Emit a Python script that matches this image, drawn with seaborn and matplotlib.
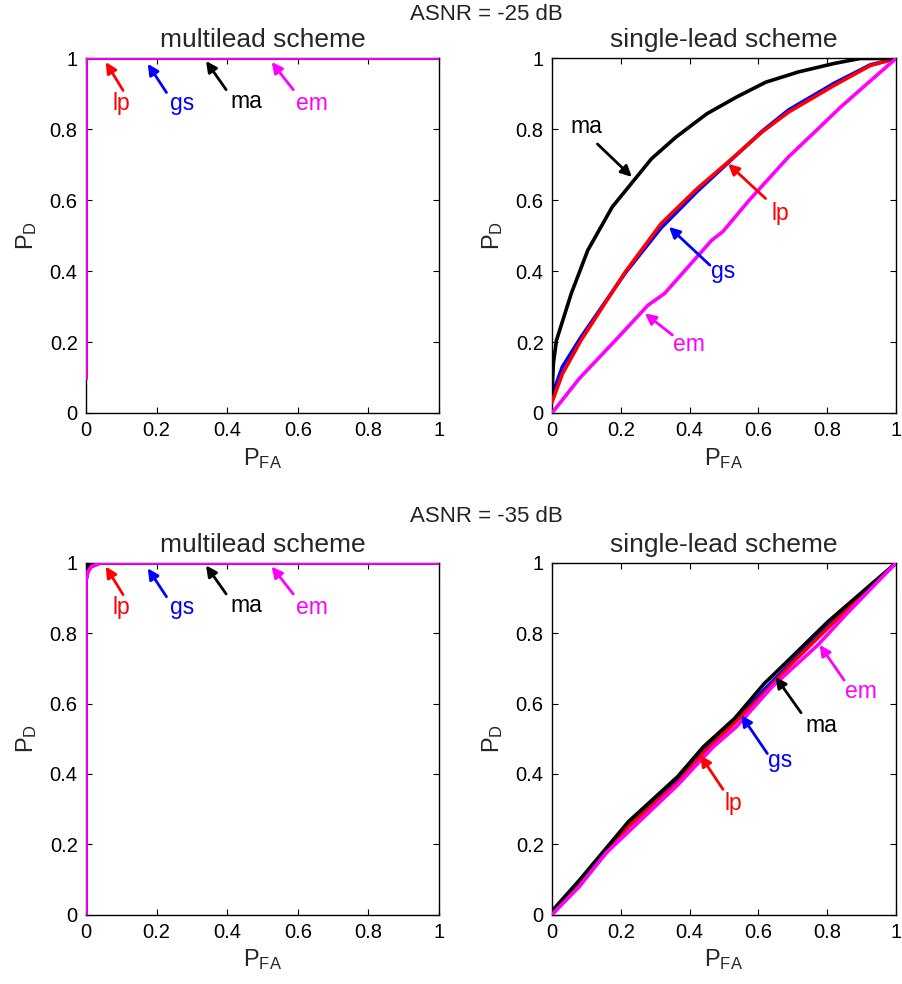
import numpy as np
import pandas as pd
import matplotlib
matplotlib.use("Agg")
import matplotlib.pyplot as plt
import seaborn as sns

# ---------------- data ----------------
methods = ["gs", "lp", "ma", "em"]
colors = {"lp": "#ff0000", "gs": "#0000ff", "ma": "#000000", "em": "#ff00ff"}
snr_titles = ["ASNR = -25 dB", "ASNR = -35 dB"]
panel_titles = ["multilead scheme", "single-lead scheme"]
tick_vals = [0, 0.2, 0.4, 0.6, 0.8, 1]
tick_labels = ["0", "0.2", "0.4", "0.6", "0.8", "1"]

# ASNR -25 dB, multilead
m25_x = [0, 0, 1]
m25_y = [0.1, 1, 1]

# ASNR -25 dB, single-lead
s25_ma_x = [0, 0.004, 0.013, 0.056, 0.104, 0.175, 0.289, 0.36, 0.45, 0.536, 0.621, 0.716, 0.82, 0.896, 1]
s25_ma_y = [0.056, 0.14, 0.205, 0.337, 0.459, 0.581, 0.717, 0.778, 0.844, 0.891, 0.933, 0.962, 0.986, 1.0, 1.0]
s25_lp_x = [0, 0.03, 0.085, 0.213, 0.317, 0.422, 0.512, 0.611, 0.688, 0.82, 0.925, 1]
s25_lp_y = [0.03, 0.11, 0.206, 0.398, 0.534, 0.633, 0.708, 0.793, 0.849, 0.924, 0.98, 1]
s25_gs_x = [0, 0.03, 0.085, 0.213, 0.317, 0.422, 0.512, 0.611, 0.688, 0.82, 0.925, 1]
s25_gs_y = [0.05, 0.13, 0.215, 0.395, 0.522, 0.625, 0.706, 0.795, 0.855, 0.93, 0.982, 1]
s25_em_x = [0, 0.08, 0.194, 0.279, 0.327, 0.464, 0.497, 0.573, 0.688, 0.764, 0.839, 0.915, 1]
s25_em_y = [0, 0.098, 0.215, 0.304, 0.337, 0.487, 0.512, 0.6, 0.723, 0.793, 0.863, 0.928, 1]

# ASNR -35 dB, multilead
m35_ma_x = [0, 0, 0.01, 1]
m35_ma_y = [0, 0.98, 1, 1]
m35_x = [0, 0, 0.005, 0.015, 0.04, 1]
m35_y = [0, 0.95, 0.975, 0.99, 1, 1]

# ASNR -35 dB, single-lead
s35_x = [0, 0.08, 0.222, 0.365, 0.44, 0.531, 0.617, 0.688, 0.802, 0.925, 1]
s35_ma_y = [0.01, 0.098, 0.264, 0.392, 0.477, 0.558, 0.657, 0.724, 0.833, 0.937, 1]
s35_gs_y = [0, 0.09, 0.255, 0.38, 0.465, 0.548, 0.64, 0.71, 0.82, 0.93, 1]
s35_lp_y = [0, 0.085, 0.25, 0.375, 0.46, 0.545, 0.63, 0.705, 0.815, 0.93, 1]
s35_em_x = [0, 0.08, 0.156, 0.279, 0.365, 0.469, 0.536, 0.64, 0.773, 0.858, 0.943, 1]
s35_em_y = [0, 0.08, 0.174, 0.288, 0.368, 0.477, 0.534, 0.648, 0.767, 0.857, 0.943, 1]

# annotations: (label, text_x, text_y, tip_x, tip_y)
ann_multi = [("lp", 0.101, 0.874, 0.056, 0.99),
             ("gs", 0.271, 0.872, 0.175, 0.985),
             ("ma", 0.455, 0.879, 0.34, 0.993),
             ("em", 0.639, 0.874, 0.526, 0.99)]
ann_s25 = [("ma", 0.099, 0.807, 0.232, 0.666),
           ("lp", 0.664, 0.564, 0.512, 0.703),
           ("gs", 0.497, 0.398, 0.34, 0.525),
           ("em", 0.398, 0.192, 0.27, 0.281)]
ann_s35 = [("em", 0.897, 0.634, 0.778, 0.767),
           ("ma", 0.782, 0.539, 0.65, 0.676),
           ("gs", 0.664, 0.437, 0.55, 0.567),
           ("lp", 0.526, 0.316, 0.431, 0.453)]
# arrow tail positions (data coords)
tail_multi = [(0.105, 0.91), (0.228, 0.904), (0.397, 0.912), (0.587, 0.912)]
tail_s25 = [(0.132, 0.759), (0.621, 0.605), (0.459, 0.417), (0.35, 0.22)]
tail_s35 = [(0.849, 0.667), (0.724, 0.574), (0.626, 0.458), (0.497, 0.356)]


def long_df(curves):
    rows = []
    for name, xs, ys in curves:
        for x, y in zip(xs, ys):
            rows.append({"PFA": x, "PD": y, "method": name})
    return pd.DataFrame(rows)


panels = [
    long_df([("gs", m25_x, m25_y), ("lp", m25_x, m25_y), ("ma", m25_x, m25_y), ("em", m25_x, m25_y)]),
    long_df([("gs", s25_gs_x, s25_gs_y), ("lp", s25_lp_x, s25_lp_y), ("ma", s25_ma_x, s25_ma_y), ("em", s25_em_x, s25_em_y)]),
    long_df([("gs", m35_x, m35_y), ("lp", m35_x, m35_y), ("ma", m35_ma_x, m35_ma_y), ("em", m35_x, m35_y)]),
    long_df([("gs", s35_x, s35_gs_y), ("lp", s35_x, s35_lp_y), ("ma", s35_x, s35_ma_y), ("em", s35_em_x, s35_em_y)]),
]
anns = [ann_multi, ann_s25, ann_multi, ann_s35]
tails = [tail_multi, tail_s25, tail_multi, tail_s35]

# ---------------- style ----------------
sns.set_style("ticks")
plt.rcParams["font.family"] = ["Liberation Sans", "DejaVu Sans"]
plt.rcParams["mathtext.fontset"] = "custom"
plt.rcParams["mathtext.rm"] = "Liberation Sans"
plt.rcParams["mathtext.it"] = "Liberation Sans"

fig = plt.figure(figsize=(9.03, 9.84), dpi=100)
W, H = 903, 984
boxes = [(86, 58.5, 353, 354.5), (552, 58.5, 344, 354.5),
         (86, 563, 353, 351.5), (552, 563, 344, 351.5)]

for i, (df, (l, t, w, h)) in enumerate(zip(panels, boxes)):
    ax = fig.add_axes([l / W, 1 - (t + h) / H, w / W, h / H])
    sns.lineplot(data=df, x="PFA", y="PD", hue="method", hue_order=methods,
                 palette=colors, estimator=None, sort=False, linewidth=2.6,
                 legend=False, ax=ax, zorder=3)
    ax.set_xlim(0, 1)
    ax.set_ylim(0, 1)
    ax.set_xticks(tick_vals)
    ax.set_xticklabels(tick_labels)
    ax.set_yticks(tick_vals)
    ax.set_yticklabels(tick_labels)
    ax.tick_params(direction="in", top=True, right=True, length=4, width=0.8,
                   labelsize=14.5, pad=6, colors="black")
    for s in ax.spines.values():
        s.set_linewidth(1.0)
        s.set_color("black")
    ax.set_xlabel(r"$\mathrm{P}_{\mathrm{FA}}$", fontsize=17, labelpad=4)
    ax.set_ylabel(r"$\mathrm{P}_{\mathrm{D}}$", fontsize=17, labelpad=8)
    ax.set_title(panel_titles[i % 2], fontsize=19, pad=8)
    for (lab, tx, ty, hx, hy), (sx, sy) in zip(anns[i], tails[i]):
        ax.text(tx, ty, lab, color=colors[lab], fontsize=16.5,
                ha="center", va="center", zorder=5)
        ax.annotate("", xy=(hx, hy), xytext=(sx, sy), zorder=5,
                    arrowprops=dict(arrowstyle="-|>", color=colors[lab],
                                    lw=2.0, mutation_scale=16,
                                    shrinkA=0, shrinkB=0))

fig.text(486.5 / W, 1 - 14 / H, snr_titles[0], ha="center", va="center",
         fontsize=16, color="#222222")
fig.text(486.5 / W, 1 - 517 / H, snr_titles[1], ha="center", va="center",
         fontsize=16, color="#222222")

fig.savefig("out.png", dpi=100)
